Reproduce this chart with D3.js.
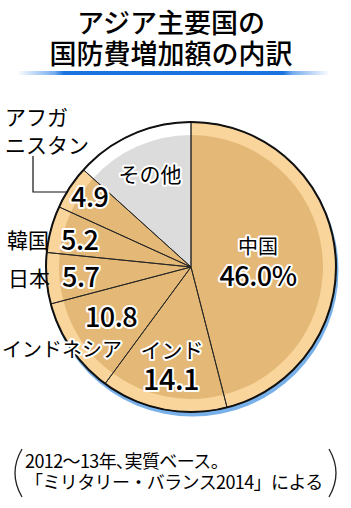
<!DOCTYPE html>
<html>
<head>
<meta charset="utf-8">
<script src="https://cdn.jsdelivr.net/npm/d3@7"></script>
<style>
  body { margin: 0; background: #fff; }
  svg text { font-family: "Noto Sans CJK JP", sans-serif; }
  .num { font-weight: 500; stroke: #fff; stroke-width: 4px; paint-order: stroke; stroke-linejoin: round; }
  .halo { stroke: #fff; stroke-width: 4px; paint-order: stroke; stroke-linejoin: round; }
</style>
</head>
<body>
<svg id="chart" width="351" height="508"></svg>
<script>
// data (2012-13 increase share, %)
var names = ["中国", "インド", "インドネシア", "日本", "韓国", "アフガニスタン", "その他"];
var values = [46.0, 14.1, 10.8, 5.7, 5.2, 4.9, 13.3];
var valueLabels = ["46.0%", "14.1", "10.8", "5.7", "5.2", "4.9", ""];
var titleLines = ["アジア主要国の", "国防費増加額の内訳"];
var noteLines = ["2012～13年､実質ベース。", "「ミリタリー・バランス2014」による"];

var color = {
  fill: "#e4b978",
  ring: "#fad59b",
  other: "#dcdcdc",
  otherRing: "#ffffff",
  shadow: "#78b0ea",
  bar: "#1a73e0"
};

var svg = d3.select("#chart"),
    cx = 191, cy = 267, r = 145, rIn = 132;

// title
svg.selectAll("text.title")
  .data(titleLines).enter()
  .append("text")
    .attr("class", "title")
    .attr("x", 171)
    .attr("y", function(d, i){ return 33 + i * 31; })
    .attr("text-anchor", "middle")
    .attr("font-size", 27)
    .attr("font-weight", 500)
    .text(function(d){ return d; });

// blue bar under title with faded ends
var grad = svg.append("defs").append("linearGradient").attr("id", "bar");
[[0, 0], [0.12, 0.6], [0.15, 1], [0.85, 1], [0.88, 0.6], [1, 0]].forEach(function(s){
  grad.append("stop").attr("offset", s[0]).attr("stop-color", color.bar).attr("stop-opacity", s[1]);
});
svg.append("rect")
  .attr("x", 17).attr("y", 71).attr("width", 313).attr("height", 4)
  .attr("fill", "url(#bar)");

// pie
var pie = d3.pie().sort(null).startAngle(0).endAngle(2 * Math.PI);
var arcs = pie(values);
var outer = d3.arc().innerRadius(0).outerRadius(r);
var inner = d3.arc().innerRadius(0).outerRadius(rIn);

var g = svg.append("g").attr("transform", "translate(" + cx + "," + cy + ")");

g.append("circle").attr("cx", 1.5).attr("cy", 3.5).attr("r", r + 1).attr("fill", color.shadow);

g.selectAll("path.ring")
  .data(arcs).enter()
  .append("path")
    .attr("class", "ring")
    .attr("d", outer)
    .attr("fill", function(d, i){ return names[i] === "その他" ? color.otherRing : color.ring; });

g.selectAll("path.inner")
  .data(arcs).enter()
  .append("path")
    .attr("class", "inner")
    .attr("d", inner)
    .attr("fill", function(d, i){ return names[i] === "その他" ? color.other : color.fill; });

g.selectAll("path.edge")
  .data(arcs).enter()
  .append("path")
    .attr("class", "edge")
    .attr("d", outer)
    .attr("fill", "none")
    .attr("stroke", "#222")
    .attr("stroke-width", 0.9);

g.append("circle").attr("r", r).attr("fill", "none").attr("stroke", "#111").attr("stroke-width", 2);

// label placement (name position, value position)
var layout = {
  "中国":        {nx: 258, ny: 254, na: "middle", nh: true, vx: 258, vy: 286, va: "middle"},
  "インド":      {nx: 172, ny: 358, na: "middle", nh: true, vx: 171, vy: 390, va: "middle", vs: 29},
  "インドネシア": {nx: 62,  ny: 357, na: "middle", nh: true, vx: 111, vy: 327, va: "middle"},
  "日本":        {nx: 8,   ny: 286, na: "start",  vx: 62,  vy: 287, va: "start"},
  "韓国":        {nx: 7,   ny: 248, na: "start",  vx: 61,  vy: 250, va: "start"},
  "アフガニスタン": {nx: 5, ny: 125, na: "start", vx: 71, vy: 207, va: "start"},
  "その他":      {nx: 150, ny: 182, na: "middle", nh: true}
};

names.forEach(function(n, i){
  var p = layout[n];
  if (n === "アフガニスタン") {
    svg.append("text").attr("x", p.nx).attr("y", p.ny).attr("font-size", 21).text("アフガ");
    svg.append("text").attr("x", p.nx).attr("y", p.ny + 28).attr("font-size", 21).text("ニスタン");
    svg.append("path")
      .attr("d", "M33,156V192H68")
      .attr("fill", "none").attr("stroke", "#111").attr("stroke-width", 1.2);
  } else {
    svg.append("text")
      .attr("class", p.nh ? "halo" : null)
      .attr("x", p.nx).attr("y", p.ny)
      .attr("text-anchor", p.na)
      .attr("font-size", n === "インドネシア" || n === "中国" ? 20 : 21)
      .text(n);
  }
  if (valueLabels[i]) {
    svg.append("text")
      .attr("class", "num")
      .attr("x", p.vx).attr("y", p.vy)
      .attr("text-anchor", p.va)
      .attr("font-size", p.vs || 27)
      .attr("letter-spacing", -0.5)
      .text(valueLabels[i]);
  }
});

// source note with large parentheses
svg.append("path").attr("d", "M22,449Q8,473 22,497").attr("fill", "none").attr("stroke", "#222").attr("stroke-width", 1.3);
svg.append("path").attr("d", "M329,449Q343,473 329,497").attr("fill", "none").attr("stroke", "#222").attr("stroke-width", 1.3);
svg.selectAll("text.note")
  .data(noteLines).enter()
  .append("text")
    .attr("class", "note")
    .attr("x", 25)
    .attr("y", function(d, i){ return 468 + i * 21; })
    .attr("font-size", 18)
    .attr("letter-spacing", -0.6)
    .text(function(d){ return d; });
</script>
</body>
</html>
